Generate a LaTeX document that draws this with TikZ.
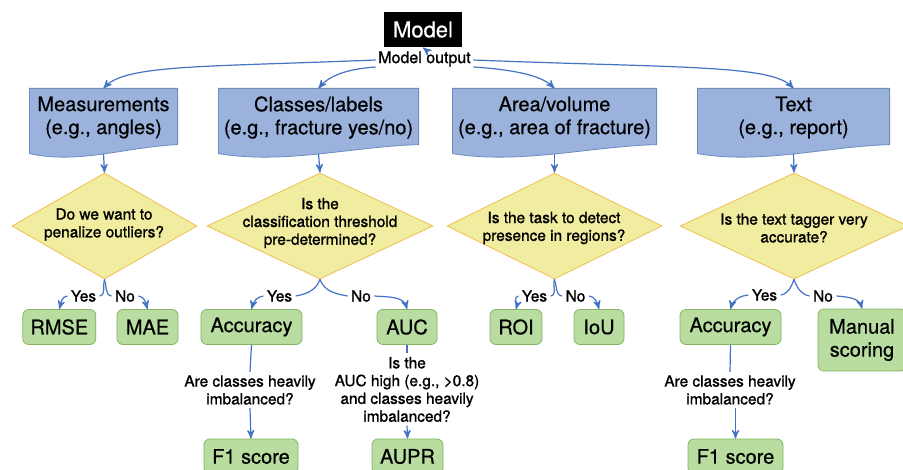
\documentclass[tikz,border=0pt]{standalone}
\usepackage{fontspec}
\setmainfont{TeX Gyre Heros}[FakeBold=0.5]
\newfontfamily\smallfam{TeX Gyre Heros}[FakeBold=1.2]
\usetikzlibrary{arrows,shapes.geometric,backgrounds,calc}

\definecolor{docblue}{RGB}{155,179,220}
\definecolor{docline}{RGB}{108,142,191}
\definecolor{askyellow}{RGB}{240,236,160}
\definecolor{askline}{RGB}{243,190,80}
\definecolor{resgreen}{RGB}{185,221,160}
\definecolor{resline}{RGB}{130,180,100}
\definecolor{linkblue}{RGB}{68,114,196}

\begin{document}
\begin{tikzpicture}[x=0.5pt,y=0.5pt,>=stealth',semithick]

  \tikzstyle{every node}=[font=\fontsize{10}{11.5}\selectfont]
  \tikzstyle{doc}=[align=center,inner sep=0pt,minimum height=28.5pt]
  \tikzstyle{ask}=[diamond,draw=askline,fill=askyellow,thin,inner sep=0pt,minimum height=53pt]
  \tikzstyle{qtxt}=[align=center,inner sep=1.5pt,font=\smallfam\fontsize{7.7}{8.9}\selectfont]
  \tikzstyle{res}=[rectangle,rounded corners=3pt,draw=resline,fill=resgreen,thin,
                   minimum height=17.5pt,inner sep=0pt,align=center]
  \tikzstyle{ans}=[inner sep=1.5pt,font=\smallfam\fontsize{7.7}{9}\selectfont]
  \tikzstyle{link}=[->,draw=linkblue]

  \useasboundingbox (0,0) rectangle (903,-470);

  % top
  \node[fill=black,text=white,font=\fontsize{11}{13}\selectfont,minimum width=39pt,
        minimum height=17.5pt,inner sep=0pt] (MOD) at (423,-29.5) {Model};
  \node[font=\smallfam\fontsize{8}{9.6}\selectfont,inner sep=1pt] (OUT) at (424.5,-59) {Model output};

  % kinds of output
  \node[doc,minimum width=73.5pt]  (MEA) at (103.5,-117.5) {Measurements\\(e.g., angles)};
  \node[doc,minimum width=99.5pt]  (CLS) at (318.5,-117.5) {Classes/labels\\(e.g., fracture yes/no)};
  \node[doc,minimum width=101.5pt] (ARE) at (554.5,-117.5) {Area/volume\\(e.g., area of fracture)};
  \node[doc,minimum width=95.5pt]  (TXT) at (793.5,-117.5) {Text\\(e.g., report)};

  % wavy bottoms, behind the text
  \begin{scope}[on background layer]
    \fill[white] (0,0) rectangle (903,-470);
    \foreach \d in {MEA,CLS,ARE,TXT}
      \draw[docline,fill=docblue,thin] (\d.north west) -- (\d.north east)
        -- ([yshift=1pt]\d.south east)
        .. controls ($(\d.south west)!0.67!(\d.south east)+(0,0)$)
               and ($(\d.south west)!0.33!(\d.south east)+(0,-18)$) .. ([yshift=-3.5pt]\d.south west)
        -- cycle;
  \end{scope}

  % questions
  \node[ask,minimum width=92.5pt] (QMEA) at (104.5,-226) {};
  \node[ask,minimum width=113pt]  (QCLS) at (320,-226)   {};
  \node[ask,minimum width=107.5pt](QARE) at (554.5,-226) {};
  \node[ask,minimum width=114pt]  (QTXT) at (794,-226)   {};

  \node[qtxt] (TMEA) at (104,-224.5) {Do we want to\\penalize outliers?};
  \node[qtxt] (TCLS) at (320,-223)   {Is the\\classification threshold\\pre-determined?};
  \node[qtxt] (TARE) at (554,-228)   {Is the task to detect\\presence in regions?};
  \node[qtxt] (TTXT) at (794,-228)   {Is the text tagger very\\accurate?};

  % answers
  \node[ans] (Y1) at (83.5,-296)  {Yes};
  \node[ans] (N1) at (125,-296)   {No};
  \node[ans] (Y2) at (279.5,-296) {Yes};
  \node[ans] (N2) at (361,-296)   {No};
  \node[ans] (Y3) at (534.5,-296) {Yes};
  \node[ans] (N3) at (575.5,-296) {No};
  \node[ans] (Y4) at (764.5,-295) {Yes};
  \node[ans] (N4) at (823,-296)   {No};

  % metrics
  \node[res,minimum width=36.5pt] (RMS) at (59.3,-327)  {RMSE};
  \node[res,minimum width=30.5pt] (MAE) at (147.5,-327) {MAE};
  \node[res,minimum width=50.5pt] (AC1) at (251.5,-327) {Accuracy};
  \node[res,minimum width=30pt]   (AUC) at (407,-327)   {AUC};
  \node[res,minimum width=26pt]   (ROI) at (516,-327)   {ROI};
  \node[res,minimum width=25pt]   (IOU) at (599,-327)   {IoU};
  \node[res,minimum width=50.5pt] (AC2) at (730.5,-327) {Accuracy};
  \node[res,minimum width=44pt,minimum height=31pt] (MAN) at (862,-340) {Manual\\scoring};

  \node[qtxt] (Q1) at (250,-390)   {Are classes heavily\\imbalanced?};
  \node[qtxt] (Q2) at (407,-389.5) {Is the\\AUC high (e.g., >0.8)\\and classes heavily\\imbalanced?};
  \node[qtxt] (Q3) at (730,-390)   {Are classes heavily\\imbalanced?};

  \node[res,minimum width=47pt]   (F1A) at (251,-456.5)   {F1 score};
  \node[res,minimum width=35.5pt] (APR) at (407.5,-456.5) {AUPR};
  \node[res,minimum width=47.5pt] (F1B) at (735.5,-456.5) {F1 score};

  % connectors
  \draw[link] (OUT.north) -- (MOD.south);
  \draw[link] ([yshift=-0.5pt]OUT.west) .. controls +(-170,-7) and +(22,24) .. (MEA.north);
  \draw[link] ([yshift=-4pt]OUT.west) .. controls +(-30,-2) and +(10,12) .. (CLS.north);
  \draw[link] ([yshift=-4pt]OUT.east) .. controls +(45,-3) and +(-12,12) .. (ARE.north);
  \draw[link] ([yshift=-0.5pt]OUT.east) .. controls +(200,-8) and +(-22,24) .. (TXT.north);

  \foreach \d/\q in {MEA/QMEA,CLS/QCLS,ARE/QARE,TXT/QTXT}
    \draw[link] ([yshift=-3.5pt]\d.south) -- (\q.north);

  \foreach \q/\y/\n/\a/\b in {QMEA/Y1/N1/RMS/MAE,QCLS/Y2/N2/AC1/AUC,
                              QARE/Y3/N3/ROI/IOU,QTXT/Y4/N4/AC2/MAN}
  {
    \draw[link,-] (\q.south) to[out=-110,in=10] (\y.east);
    \draw[link] (\y.west) to[out=185,in=75] (\a.north);
    \draw[link,-] (\q.south) to[out=-70,in=170] (\n.west);
    \draw[link] (\n.east) to[out=-5,in=105] (\b.north);
  }

  \draw[link,-] (AC1.south) -- (Q1.north);
  \draw[link] (Q1.south) -- (F1A.north);
  \draw[link,-] (AUC.south) -- (Q2.north);
  \draw[link] (Q2.south) -- (APR.north);
  \draw[link,-] (AC2.south) -- (Q3.north);
  \draw[link] (Q3.south -| F1B.north) -- (F1B.north);

\end{tikzpicture}
\end{document}
